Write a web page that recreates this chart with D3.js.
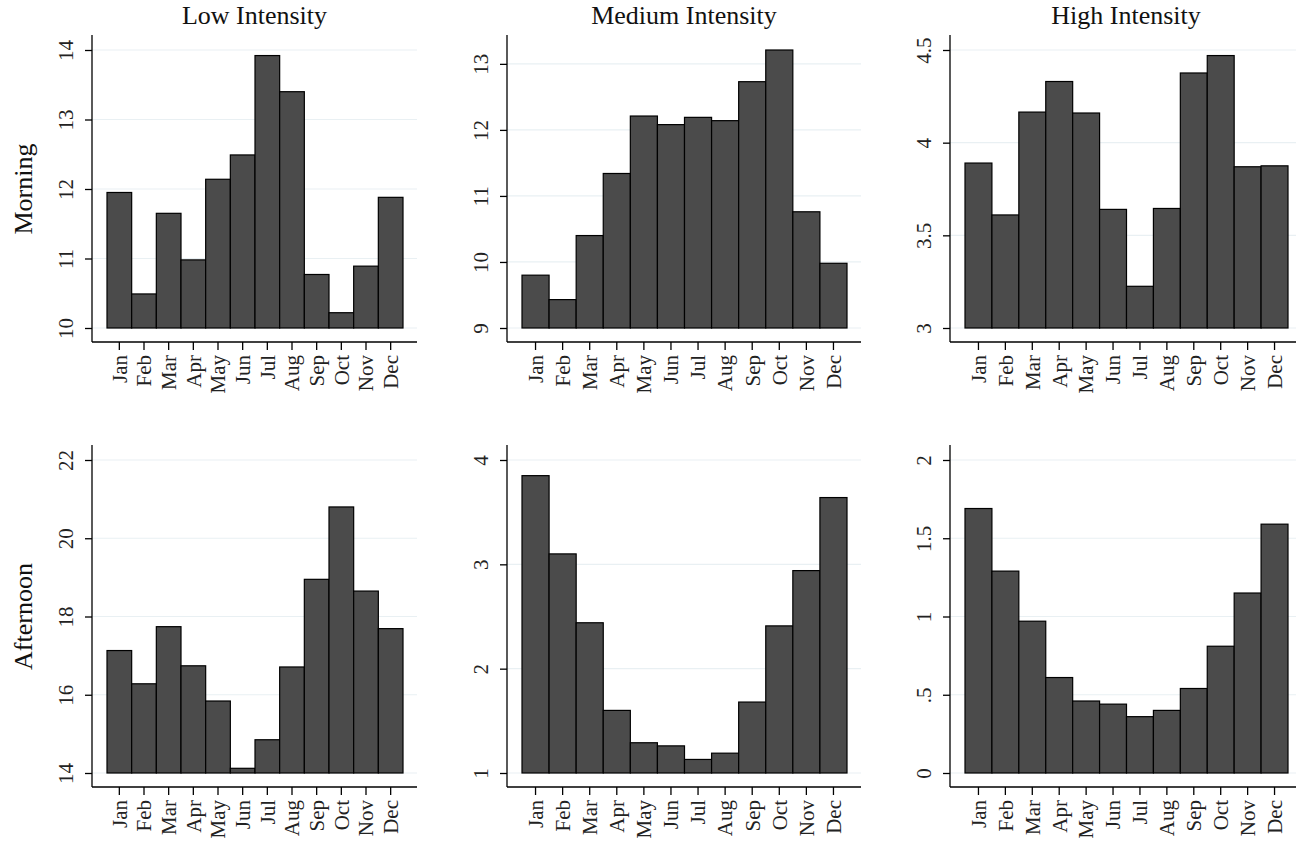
<!DOCTYPE html>
<html>
<head>
<meta charset="utf-8">
<script src="https://cdn.jsdelivr.net/npm/d3@7"></script>
<style>
  body { margin: 0; background: #fff; }
  svg { display: block; font-family: "Liberation Serif", "DejaVu Serif", serif; }
</style>
</head>
<body>
<svg id="chart" width="1296" height="844"></svg>
<script>
const months = ["Jan", "Feb", "Mar", "Apr", "May", "Jun", "Jul", "Aug", "Sep", "Oct", "Nov", "Dec"];
const columnTitles = ["Low Intensity", "Medium Intensity", "High Intensity"];
const rowTitles = ["Morning", "Afternoon"];

const morningLow    = [11.95, 10.49, 11.65, 10.98, 12.14, 12.49, 13.92, 13.40, 10.77, 10.22, 10.89, 11.88];
const morningMedium = [9.80, 9.43, 10.40, 11.34, 12.21, 12.08, 12.19, 12.14, 12.73, 13.21, 10.76, 9.98];
const morningHigh   = [3.89, 3.61, 4.165, 4.33, 4.16, 3.64, 3.225, 3.645, 4.376, 4.47, 3.87, 3.875];
const afternoonLow    = [17.13, 16.28, 17.74, 16.74, 15.84, 14.12, 14.85, 16.71, 18.95, 20.80, 18.65, 17.69];
const afternoonMedium = [3.85, 3.10, 2.44, 1.60, 1.29, 1.26, 1.13, 1.19, 1.68, 2.41, 2.94, 3.64];
const afternoonHigh   = [1.69, 1.29, 0.97, 0.61, 0.46, 0.44, 0.36, 0.40, 0.54, 0.81, 1.15, 1.59];

const ticksMorningLow    = [10, 11, 12, 13, 14];
const ticksMorningMedium = [9, 10, 11, 12, 13];
const ticksMorningHigh   = [3, 3.5, 4, 4.5];
const ticksAfternoonLow    = [14, 16, 18, 20, 22];
const ticksAfternoonMedium = [1, 2, 3, 4];
const ticksAfternoonHigh   = [0, 0.5, 1, 1.5, 2];

const panels = [
  { row: 0, col: 0, values: morningLow, ticks: ticksMorningLow },
  { row: 0, col: 1, values: morningMedium, ticks: ticksMorningMedium },
  { row: 0, col: 2, values: morningHigh, ticks: ticksMorningHigh },
  { row: 1, col: 0, values: afternoonLow, ticks: ticksAfternoonLow },
  { row: 1, col: 1, values: afternoonMedium, ticks: ticksAfternoonMedium },
  { row: 1, col: 2, values: afternoonHigh, ticks: ticksAfternoonHigh }
];

// layout of the 3x2 grid (pixels)
const colLeft = [92, 507, 950];
const colRight = [417, 861, 1302];
const rowTop = [50, 460];      // inner plot top
const rowBottom = [328, 773];  // inner plot bottom
const pad = 15;

const barFill = "#4b4b4b";
const gridColor = "#e9f0f3";
const fmt = d => String(d).replace(/^0\./, ".");

const svg = d3.select("#chart");

panels.forEach(p => {
  const left = colLeft[p.col], right = colRight[p.col];
  const top = rowTop[p.row], bottom = rowBottom[p.row];
  const axisTop = top - pad, axisBottom = bottom + 14;

  const x = d3.scaleBand().domain(months).range([left + pad, right - 14]).padding(0);
  const hi = Math.max(d3.max(p.ticks), d3.max(p.values));
  const y = d3.scaleLinear().domain([d3.min(p.ticks), hi]).range([bottom, top]);

  const g = svg.append("g");

  // gridlines
  g.selectAll(".grid")
    .data(p.ticks)
    .enter()
    .append("line")
    .attr("x1", left).attr("x2", right)
    .attr("y1", d => y(d)).attr("y2", d => y(d))
    .attr("stroke", gridColor)
    .attr("stroke-width", 1.2);

  // bars
  g.selectAll(".bar")
    .data(p.values)
    .enter()
    .append("rect")
    .attr("x", (d, i) => x(months[i]))
    .attr("width", x.bandwidth())
    .attr("y", d => y(d))
    .attr("height", d => y.range()[0] - y(d))
    .attr("fill", barFill)
    .attr("stroke", "#000")
    .attr("stroke-width", 1.2);

  // y axis
  const yAxis = g.append("g")
    .attr("transform", `translate(${left},0)`)
    .call(d3.axisLeft(y).tickValues(p.ticks).tickFormat(fmt).tickSize(7).tickPadding(0));
  yAxis.select(".domain").remove();
  yAxis.append("line")
    .attr("x1", 0).attr("x2", 0)
    .attr("y1", axisTop).attr("y2", axisBottom)
    .attr("stroke", "#000").attr("stroke-width", 1.3);
  yAxis.selectAll(".tick line").attr("stroke", "#000").attr("stroke-width", 1.3);
  yAxis.selectAll(".tick text")
    .attr("x", null).attr("dy", null)
    .attr("transform", "translate(-19,0) rotate(-90)")
    .attr("text-anchor", "middle")
    .attr("fill", "#222")
    .style("font-size", "21px");

  // x axis
  const xAxis = g.append("g")
    .attr("transform", `translate(0,${axisBottom})`)
    .call(d3.axisBottom(x).tickSize(8).tickPadding(0));
  xAxis.select(".domain").remove();
  xAxis.append("line")
    .attr("x1", left).attr("x2", right)
    .attr("y1", 0).attr("y2", 0)
    .attr("stroke", "#000").attr("stroke-width", 1.3);
  xAxis.selectAll(".tick line").attr("stroke", "#000").attr("stroke-width", 1.3);
  xAxis.selectAll(".tick text")
    .attr("y", null).attr("dy", null)
    .attr("transform", "translate(0,13) rotate(-90)")
    .attr("dy", "0.35em")
    .attr("text-anchor", "end")
    .attr("fill", "#222")
    .style("font-size", "21px");

  g.selectAll("g").attr("font-family", null).attr("font-size", null);

  // column title
  if (p.row === 0) {
    svg.append("text")
      .attr("x", (left + right) / 2)
      .attr("y", 24)
      .attr("text-anchor", "middle")
      .style("font-size", "26px")
      .attr("fill", "#111")
      .text(columnTitles[p.col]);
  }

  // row title
  if (p.col === 0) {
    svg.append("text")
      .attr("transform", `translate(32,${(top + bottom) / 2}) rotate(-90)`)
      .attr("text-anchor", "middle")
      .style("font-size", "26px")
      .attr("fill", "#111")
      .text(rowTitles[p.row]);
  }
});
</script>
</body>
</html>
